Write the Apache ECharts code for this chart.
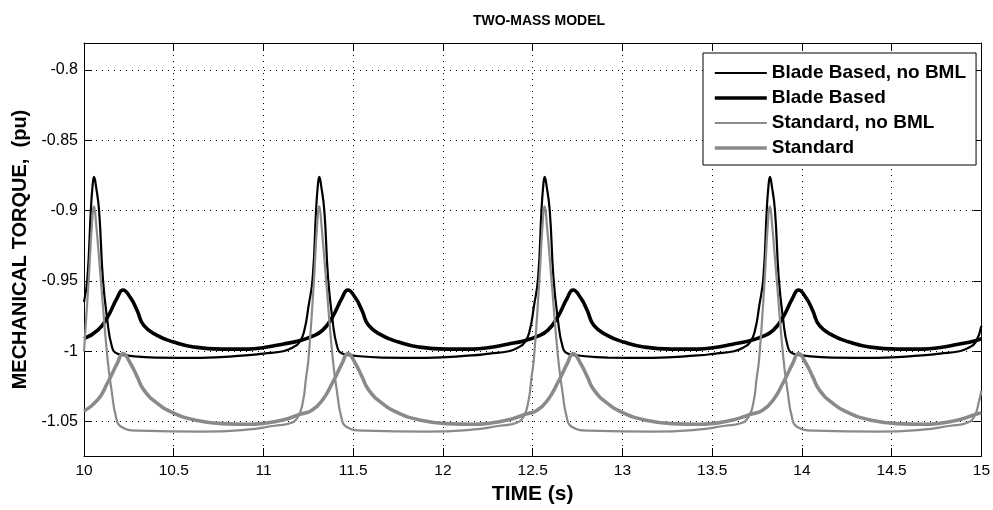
<!DOCTYPE html>
<html>
<head>
<meta charset="utf-8">
<title>TWO-MASS MODEL</title>
<script src="https://cdn.jsdelivr.net/npm/echarts@6/dist/echarts.min.js"></script>
<style>
  html, body { margin: 0; padding: 0; background: #fff; }
  #chart { width: 993px; height: 510px; }
</style>
</head>
<body>
<div id="chart"></div>
<script>
// Axis ticks
const xTicks = [10, 10.5, 11, 11.5, 12, 12.5, 13, 13.5, 14, 14.5, 15];
const yTicks = [-1.05, -1, -0.95, -0.9, -0.85, -0.8];

const seriesNames = ['Blade Based, no BML', 'Blade Based', 'Standard, no BML', 'Standard'];

// Blade Based, no BML  [time (s), torque (pu)]
const bladeNoBml = [
  [10.000, -0.965], [10.019, -0.948], [10.038, -0.900], [10.048, -0.882], [10.056, -0.876],
  [10.066, -0.882], [10.084, -0.900], [10.105, -0.948], [10.128, -0.976], [10.156, -0.997],
  [10.184, -1.0017], [10.236, -1.0030], [10.400, -1.0045], [10.650, -1.0047], [10.900, -1.0030],
  [11.000, -1.0017], [11.110, -1.0000], [11.161, -0.9975], [11.201, -0.9935], [11.228, -0.985],
  [11.251, -0.968], [11.274, -0.948], [11.293, -0.900], [11.303, -0.882], [11.311, -0.876],
  [11.321, -0.882], [11.339, -0.900], [11.360, -0.948], [11.383, -0.976], [11.411, -0.997],
  [11.439, -1.0017], [11.491, -1.0030], [11.660, -1.0045], [11.910, -1.0047], [12.160, -1.0030],
  [12.260, -1.0017], [12.367, -1.0000], [12.417, -0.9975], [12.457, -0.9935], [12.484, -0.985],
  [12.507, -0.968], [12.530, -0.948], [12.549, -0.900], [12.559, -0.882], [12.567, -0.876],
  [12.577, -0.882], [12.595, -0.900], [12.616, -0.948], [12.639, -0.976], [12.667, -0.997],
  [12.695, -1.0017], [12.747, -1.0030], [12.920, -1.0045], [13.170, -1.0047], [13.420, -1.0030],
  [13.520, -1.0017], [13.622, -1.0000], [13.672, -0.9975], [13.712, -0.9935], [13.739, -0.985],
  [13.762, -0.968], [13.785, -0.948], [13.804, -0.900], [13.814, -0.882], [13.822, -0.876],
  [13.832, -0.882], [13.850, -0.900], [13.871, -0.948], [13.894, -0.976], [13.922, -0.997],
  [13.950, -1.0017], [14.002, -1.0030], [14.170, -1.0045], [14.420, -1.0047], [14.670, -1.0030],
  [14.770, -1.0017], [14.878, -1.0000], [14.928, -0.9975], [14.968, -0.9935], [15.000, -0.982]
];

// Blade Based
const blade = [
  [10.000, -0.9911], [10.077, -0.985], [10.130, -0.976], [10.185, -0.962], [10.217, -0.9565],
  [10.259, -0.962], [10.296, -0.971], [10.333, -0.9817], [10.407, -0.9887], [10.500, -0.9935],
  [10.611, -0.9970], [10.767, -0.9985], [10.917, -0.9985], [10.997, -0.9975], [11.107, -0.9950],
  [11.200, -0.9925], [11.270, -0.9895], [11.330, -0.985], [11.383, -0.976], [11.438, -0.962],
  [11.470, -0.9565], [11.512, -0.962], [11.549, -0.971], [11.586, -0.9817], [11.660, -0.9887],
  [11.753, -0.9935], [11.864, -0.9970], [12.020, -0.9985], [12.170, -0.9985], [12.250, -0.9975],
  [12.360, -0.9950], [12.455, -0.9925], [12.525, -0.9895], [12.585, -0.985], [12.638, -0.976],
  [12.693, -0.962], [12.725, -0.9565], [12.767, -0.962], [12.804, -0.971], [12.841, -0.9817],
  [12.915, -0.9887], [13.008, -0.9935], [13.119, -0.9970], [13.275, -0.9985], [13.425, -0.9985],
  [13.505, -0.9975], [13.615, -0.9950], [13.711, -0.9925], [13.781, -0.9895], [13.841, -0.985],
  [13.894, -0.976], [13.949, -0.962], [13.981, -0.9565], [14.023, -0.962], [14.060, -0.971],
  [14.097, -0.9817], [14.171, -0.9887], [14.264, -0.9935], [14.375, -0.9970], [14.531, -0.9985],
  [14.681, -0.9985], [14.761, -0.9975], [14.871, -0.9950], [14.966, -0.9925], [15.000, -0.9910]
];

// Standard, no BML
const standardNoBml = [
  [10.000, -1.000], [10.026, -0.950], [10.044, -0.910], [10.056, -0.897], [10.068, -0.910],
  [10.093, -0.948], [10.130, -1.004], [10.156, -1.030], [10.177, -1.046], [10.204, -1.0535],
  [10.306, -1.0565], [10.656, -1.0572], [10.906, -1.0558], [11.061, -1.0530], [11.141, -1.0515],
  [11.191, -1.047], [11.221, -1.035], [11.236, -1.020], [11.251, -1.005], [11.281, -0.950],
  [11.299, -0.910], [11.311, -0.897], [11.323, -0.910], [11.348, -0.948], [11.385, -1.004],
  [11.411, -1.030], [11.432, -1.046], [11.459, -1.0535], [11.561, -1.0565], [11.911, -1.0572],
  [12.161, -1.0558], [12.317, -1.0530], [12.397, -1.0515], [12.447, -1.047], [12.477, -1.035],
  [12.492, -1.020], [12.507, -1.005], [12.537, -0.950], [12.555, -0.910], [12.567, -0.897],
  [12.579, -0.910], [12.604, -0.948], [12.641, -1.004], [12.667, -1.030], [12.688, -1.046],
  [12.715, -1.0535], [12.817, -1.0565], [13.167, -1.0572], [13.417, -1.0558], [13.572, -1.0530],
  [13.652, -1.0515], [13.702, -1.047], [13.732, -1.035], [13.747, -1.020], [13.762, -1.005],
  [13.792, -0.950], [13.810, -0.910], [13.822, -0.897], [13.834, -0.910], [13.859, -0.948],
  [13.896, -1.004], [13.922, -1.030], [13.943, -1.046], [13.970, -1.0535], [14.072, -1.0565],
  [14.422, -1.0572], [14.672, -1.0558], [14.828, -1.0530], [14.908, -1.0515], [14.958, -1.047],
  [14.988, -1.035], [15.000, -1.028]
];

// Standard
const standard = [
  [10.000, -1.0427], [10.077, -1.0345], [10.130, -1.0228], [10.185, -1.0087], [10.217, -1.0017],
  [10.259, -1.0087], [10.296, -1.0181], [10.333, -1.0275], [10.407, -1.0369], [10.500, -1.0440],
  [10.611, -1.0487], [10.767, -1.0515], [10.917, -1.0520], [10.997, -1.0514], [11.107, -1.0490],
  [11.200, -1.0450], [11.270, -1.0420], [11.330, -1.0345], [11.383, -1.0228], [11.438, -1.0087],
  [11.470, -1.0017], [11.512, -1.0087], [11.549, -1.0181], [11.586, -1.0275], [11.660, -1.0369],
  [11.753, -1.0440], [11.864, -1.0487], [12.020, -1.0515], [12.170, -1.0520], [12.250, -1.0514],
  [12.360, -1.0490], [12.455, -1.0450], [12.525, -1.0420], [12.585, -1.0345], [12.638, -1.0228],
  [12.693, -1.0087], [12.725, -1.0017], [12.767, -1.0087], [12.804, -1.0181], [12.841, -1.0275],
  [12.915, -1.0369], [13.008, -1.0440], [13.119, -1.0487], [13.275, -1.0515], [13.425, -1.0520],
  [13.505, -1.0514], [13.615, -1.0490], [13.711, -1.0450], [13.781, -1.0420], [13.841, -1.0345],
  [13.894, -1.0228], [13.949, -1.0087], [13.981, -1.0017], [14.023, -1.0087], [14.060, -1.0181],
  [14.097, -1.0275], [14.171, -1.0369], [14.264, -1.0440], [14.375, -1.0487], [14.531, -1.0515],
  [14.681, -1.0520], [14.761, -1.0514], [14.871, -1.0490], [14.966, -1.0450], [15.000, -1.0440]
];

const BLACK = '#000000';
const GRAY = '#8a8a8a';
const THIN = 2.2;
const THICK = 3.6;
const FONT = 'Liberation Sans, Arial, Helvetica, sans-serif';

const lineStyles = [
  { color: BLACK, width: THIN },
  { color: BLACK, width: THICK },
  { color: GRAY, width: THIN },
  { color: GRAY, width: THICK }
];
const seriesData = [bladeNoBml, blade, standardNoBml, standard];

const dotted = { color: '#000', width: 1, type: [1, 5] };
const plotBox = { show: true, onZero: false, lineStyle: { color: '#000', width: 1 } };
const inTicks = { show: true, inside: true, length: 8, lineStyle: { color: '#000', width: 1 } };

const chart = echarts.init(document.getElementById('chart'), null, { renderer: 'canvas' });

chart.setOption({
  animation: false,
  backgroundColor: '#ffffff',
  title: {
    text: 'TWO-MASS MODEL',
    left: 534,
    top: 9,
    textAlign: 'center',
    textStyle: { fontFamily: FONT, fontSize: 14, fontWeight: 'bold', color: '#000' }
  },
  grid: { left: 84, right: 9, top: 43, bottom: 52, containLabel: false },
  legend: {
    show: true,
    orient: 'vertical',
    left: 703,
    top: 53,
    padding: [10, 10, 7, 10],
    itemGap: 5,
    itemWidth: 52,
    itemHeight: 14,
    backgroundColor: '#ffffff',
    borderColor: '#000',
    borderWidth: 1,
    selectedMode: false,
    itemStyle: { opacity: 0 },
    textStyle: { fontFamily: FONT, fontSize: 19, fontWeight: 'bold', color: '#000', lineHeight: 20 },
    data: seriesNames.map((n, i) => ({
      name: n,
      lineStyle: { width: lineStyles[i].width }
    }))
  },
  xAxis: [
    {
      type: 'value', position: 'bottom', min: 10, max: 15, interval: 0.5,
      name: 'TIME (s)', nameLocation: 'middle', nameGap: 25,
      nameTextStyle: { fontFamily: FONT, fontSize: 21, fontWeight: 'bold', color: '#000' },
      axisLine: plotBox, axisTick: inTicks,
      axisLabel: { margin: 7, fontFamily: FONT, fontSize: 15.5, color: '#000' },
      splitLine: { show: true, lineStyle: dotted }
    },
    {
      type: 'value', position: 'top', min: 10, max: 15, interval: 0.5,
      axisLine: plotBox, axisTick: inTicks, axisLabel: { show: false }, splitLine: { show: false }
    }
  ],
  yAxis: [
    {
      type: 'value', position: 'left', min: -1.0746, max: -0.7808,
      name: 'MECHANICAL TORQUE,  (pu)', nameLocation: 'middle', nameGap: 52,
      nameTextStyle: { fontFamily: FONT, fontSize: 20, fontWeight: 'bold', color: '#000' },
      axisLine: plotBox,
      axisTick: Object.assign({ customValues: yTicks }, inTicks),
      axisLabel: { margin: 6, fontFamily: FONT, fontSize: 16, color: '#000', customValues: yTicks },
      splitLine: { show: true, lineStyle: dotted }
    },
    {
      type: 'value', position: 'right', min: -1.0746, max: -0.7808,
      axisLine: plotBox,
      axisTick: Object.assign({ customValues: yTicks }, inTicks),
      axisLabel: { show: false, customValues: yTicks }, splitLine: { show: false }
    }
  ],
  series: seriesNames.map((n, i) => ({
    name: n,
    type: 'line',
    data: seriesData[i],
    showSymbol: false,
    symbol: 'none',
    smooth: 0.5,
    clip: true,
    lineStyle: { color: lineStyles[i].color, width: lineStyles[i].width },
    itemStyle: { color: lineStyles[i].color },
    z: 2 + i
  }))
});
</script>
</body>
</html>
